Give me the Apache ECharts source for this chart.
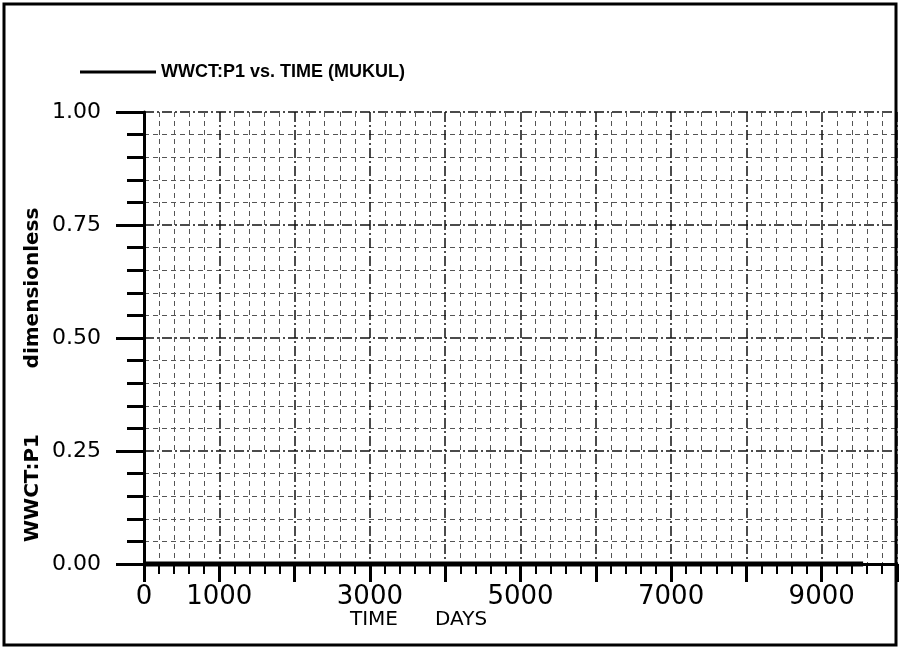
<!DOCTYPE html>
<html>
<head>
<meta charset="utf-8">
<script src="https://cdn.jsdelivr.net/npm/echarts@6/dist/echarts.min.js"></script>
<style>
html,body{margin:0;padding:0;background:#fff;}
#chart{width:900px;height:650px;}
</style>
</head>
<body>
<div id="chart"></div>
<script>
// ---- data ----
const seriesName = 'WWCT:P1 vs. TIME (MUKUL)';
const timeDays = [0, 1000, 2000, 3000, 4000, 5000, 6000, 7000, 8000, 9000, 9550];
const wwctP1   = [0, 0, 0, 0, 0, 0, 0, 0, 0, 0, 0];
const xTickLabels = [0, 1000, 3000, 5000, 7000, 9000];
const yTickLabels = ['0.00', '0.25', '0.50', '0.75', '1.00'];
const yNameParts = ['WWCT:P1', 'dimensionless'];
const xNameParts = ['TIME', 'DAYS'];

const chart = echarts.init(document.getElementById('chart'), null, {renderer: 'canvas'});
const mono = 'DejaVu Sans';

const option = {
  backgroundColor: '#fff',
  animation: false,
  grid: {left: 144, right: -4, top: 112, bottom: 86, containLabel: false},
  legend: {
    data: [seriesName],
    left: 75, top: 58,
    icon: 'rect', itemWidth: 76, itemHeight: 3,
    textStyle: {fontFamily: 'Liberation Sans', fontWeight: 'bold', fontSize: 18, color: '#000'},
    itemStyle: {color: '#000'}
  },
  xAxis: {
    type: 'value', min: 0, max: 10000, interval: 1000,
    axisLine: {show: true, onZero: false, lineStyle: {color: '#000', width: 3}},
    axisTick: {show: true, inside: false, length: 18, lineStyle: {color: '#000', width: 3}},
    minorTick: {show: true, splitNumber: 5, length: 10, lineStyle: {color: '#000', width: 2}},
    axisLabel: {
      margin: 20, color: '#000', fontFamily: mono, fontSize: 26,
      formatter: v => xTickLabels.indexOf(v) >= 0 ? String(v) : ''
    },
    splitLine: {show: true, lineStyle: {color: '#111', width: 1.5, type: [10, 3, 2, 3]}},
    minorSplitLine: {show: true, lineStyle: {color: '#555', width: 1, type: [5, 4]}}
  },
  yAxis: {
    type: 'value', min: 0, max: 1, interval: 0.25,
    axisLine: {show: true, onZero: false, lineStyle: {color: '#000', width: 3}},
    axisTick: {show: true, inside: false, length: 28, lineStyle: {color: '#000', width: 3}},
    minorTick: {show: true, splitNumber: 5, length: 17, lineStyle: {color: '#000', width: 3}},
    axisLabel: {
      margin: 43, color: '#000', fontFamily: mono, fontSize: 22,
      formatter: v => yTickLabels[Math.round(v / 0.25)]
    },
    splitLine: {show: true, lineStyle: {color: '#111', width: 1.5, type: [10, 3, 2, 3]}},
    minorSplitLine: {show: true, lineStyle: {color: '#555', width: 1, type: [5, 4]}}
  },
  series: [{
    name: seriesName,
    type: 'line',
    data: timeDays.map((t, i) => [t, wwctP1[i]]),
    symbol: 'none',
    clip: false,
    z: 5,
    lineStyle: {color: '#000', width: 5},
    itemStyle: {color: '#000'}
  }],
  graphic: [
    {type: 'rect', shape: {x: 4, y: 4, width: 892, height: 641}, style: {fill: 'none', stroke: '#000', lineWidth: 3}, z: 100},
    {type: 'text', x: 33, y: 288, rotation: Math.PI / 2,
     style: {text: yNameParts[1], fill: '#000', font: 'bold 20px "DejaVu Sans"', textAlign: 'center', textVerticalAlign: 'middle'}},
    {type: 'text', x: 33, y: 488, rotation: Math.PI / 2,
     style: {text: yNameParts[0], fill: '#000', font: 'bold 20px "DejaVu Sans"', textAlign: 'center', textVerticalAlign: 'middle'}},
    {type: 'text', x: 350, y: 620,
     style: {text: xNameParts[0], fill: '#000', font: '20px "DejaVu Sans"', textAlign: 'left', textVerticalAlign: 'middle'}},
    {type: 'text', x: 435, y: 620,
     style: {text: xNameParts[1], fill: '#000', font: '20px "DejaVu Sans"', textAlign: 'left', textVerticalAlign: 'middle'}}
  ]
};
chart.setOption(option);
</script>
</body>
</html>
